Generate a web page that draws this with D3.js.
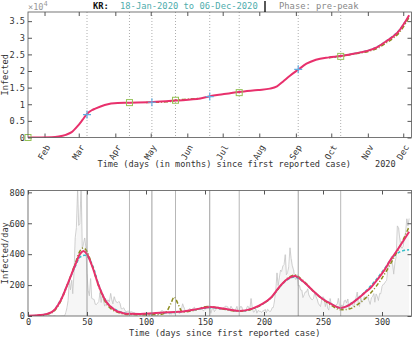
<!DOCTYPE html>
<html>
<head>
<meta charset="utf-8">
<script src="https://cdn.jsdelivr.net/npm/d3@7"></script>
<style>
body { margin: 0; background: #fff; }
text { font-family: "DejaVu Sans Mono", monospace; font-size: 8.6px; fill: #333; }
.axis path { display: none; }
.axis line { stroke: #555; }
</style>
</head>
<body>
<svg id="chart" width="415" height="339"></svg>
<script>
const COUNTRY = 'KR:';
const PERIOD = '18-Jan-2020 to 06-Dec-2020';
const PHASE = 'Phase: pre-peak';

// reported new cases per day, starting 18-Jan-2020
const jan = [0, 0, 1, 0, 0, 0, 1, 0, 1, 1, 0, 0, 2, 7];
const feb = [1, 3, 0, 1, 3, 4, 1, 0, 3, 1, 0, 0, 0, 0, 0, 1, 1, 1, 20, 53, 100, 229, 169, 231, 144, 284, 505, 571, 813];
const mar = [586, 599, 851, 435, 467, 505, 448, 272, 165, 131, 242, 114, 110, 107, 76, 74, 84, 93, 152, 87, 147, 98, 64, 76, 100, 104, 91, 146, 105, 78, 125];
const apr = [101, 89, 86, 94, 81, 47, 47, 53, 39, 27, 30, 32, 25, 27, 27, 22, 22, 18, 8, 13, 9, 11, 8, 6, 10, 10, 10, 14, 9, 4];
const may = [9, 6, 13, 8, 3, 2, 4, 12, 18, 34, 35, 27, 26, 29, 27, 19, 13, 15, 13, 32, 12, 20, 23, 25, 16, 19, 40, 79, 58, 39, 27];
const jun = [35, 38, 49, 39, 39, 51, 57, 38, 38, 50, 45, 56, 49, 37, 34, 43, 59, 49, 67, 48, 17, 46, 51, 28, 39, 51, 62, 42, 42, 43];
const jul = [51, 54, 63, 63, 61, 48, 44, 63, 50, 45, 35, 44, 62, 33, 39, 61, 60, 39, 34, 26, 45, 63, 59, 41, 113, 58, 25, 28, 48, 18, 36];
const aug = [31, 30, 23, 34, 33, 43, 20, 43, 36, 28, 34, 54, 56, 103, 166, 279, 197, 246, 297, 288, 324, 332, 397, 266, 280, 320, 441, 371, 323, 299, 248];
const sep = [235, 267, 195, 198, 168, 167, 119, 136, 156, 155, 176, 136, 121, 109, 106, 113, 153, 126, 110, 82, 70, 61, 110, 125, 114, 61, 95, 50, 38, 113];
const oct = [77, 63, 75, 64, 73, 75, 114, 69, 54, 72, 58, 98, 102, 84, 110, 47, 73, 91, 76, 58, 91, 121, 155, 77, 61, 119, 88, 103, 125, 114, 127];
const nov = [124, 97, 75, 118, 125, 145, 89, 143, 126, 100, 146, 143, 191, 205, 208, 223, 230, 313, 343, 363, 386, 330, 271, 349, 382, 583, 569, 504, 450, 438];
const dec = [451, 511, 540, 629, 583, 631];
const daily = [].concat(jan, feb, mar, apr, may, jun, jul, aug, sep, oct, nov, dec);

// fitted curves, [day, value]
const fitRed = [[0, 1], [10, 6], [15, 12], [20, 25], [23, 45], [28, 105], [34, 215], [40, 330], [44, 400], [47, 420], [50, 400], [54, 330], [60, 195], [66, 95], [74, 37], [80, 20], [85, 14], [95, 13], [106, 18], [115, 22], [128, 27], [140, 40], [155, 58], [165, 48], [179, 33], [190, 48], [199, 80], [206, 120], [213, 188], [220, 240], [226, 258], [233, 225], [241, 167], [248, 120], [256, 82], [265, 52], [270, 62], [275, 85], [280, 115], [285, 148], [291, 188], [296, 235], [302, 297], [307, 360], [313, 427], [318, 485], [323, 545]];
const fitCyan = [[0, 1], [10, 5], [20, 24], [28, 110], [34, 215], [40, 320], [44, 380], [48, 393], [52, 370], [56, 300], [60, 200], [66, 100], [74, 42], [85, 16], [100, 14], [115, 20], [130, 27], [140, 38], [155, 54], [165, 46], [179, 32], [190, 46], [199, 78], [206, 118], [213, 185], [220, 236], [226, 252], [233, 222], [241, 166], [248, 120], [256, 83], [265, 52], [275, 88], [285, 152], [295, 235], [302, 305], [307, 360], [312, 400], [317, 420], [323, 428]];
const fitOlive = [[0, 1], [10, 4], [20, 20], [28, 100], [34, 215], [40, 340], [44, 420], [47, 440], [50, 418], [54, 335], [60, 190], [66, 85], [74, 30], [85, 10], [100, 8], [112, 10], [117, 25], [121, 80], [124, 123], [127, 80], [131, 25], [140, 35], [152, 62], [165, 45], [179, 30], [190, 45], [199, 78], [206, 118], [213, 185], [220, 245], [226, 265], [233, 230], [241, 168], [248, 118], [256, 75], [265, 40], [272, 45], [280, 78], [290, 145], [300, 245], [307, 335], [313, 420], [318, 495], [323, 578]];

const cumRed = [[0, 0], [20, 100], [26, 300], [32, 800], [37, 1600], [42, 3400], [46, 5200], [50, 7100], [54, 8200], [57, 8700], [65, 9800], [76, 10400], [86, 10450], [106, 10650], [125, 11100], [146, 11700], [154, 12400], [165, 13000], [179, 13700], [195, 14300], [205, 14700], [211, 15400], [216, 16800], [222, 18600], [229, 20400], [236, 22200], [244, 23400], [255, 24100], [265, 24500], [277, 25300], [289, 26200], [296, 27200], [303, 28800], [310, 30500], [315, 32300], [320, 35000], [323, 36800]];
const cumOlive = [[255, 24000], [265, 24450], [277, 25150], [289, 25950], [296, 26800], [303, 28300], [310, 30000], [315, 31700], [320, 34300], [323, 36200]];
const cumOliveMid = [[100, 10550], [115, 10700], [121, 10850], [126, 11250], [132, 11450], [146, 11750]];
const cumCyan = [[255, 24100], [265, 24500], [277, 25300], [289, 26250], [296, 27300], [303, 28900], [310, 30700], [315, 32500], [320, 34900], [323, 36300]];

const squareDays = [0, 86, 125, 179, 265];
const squareVals = [0, 10500, 11200, 13500, 24400];
const plusDays = [50, 105, 154, 229];
const plusVals = [6900, 10600, 12300, 20500];

const topTicks = [0, 5000, 10000, 15000, 20000, 25000, 30000, 35000];
const bottomYTicks = [0, 200, 400, 600, 800];
const bottomXTicks = [0, 50, 100, 150, 200, 250, 300];

const RED = '#e8306c', CYAN = '#35bfc9', OLIVE = '#8c8c1e';
const L = 28, R = 411.5;

const svg = d3.select('#chart');
const start = d3.timeParse('%d-%b-%Y')('18-Jan-2020');
const dayDate = d => d3.timeDay.offset(start, d);

// ---------- top panel: cumulative ----------
const tTop = 12, tBot = 137.5;
const xT = d3.scaleTime().domain([start, dayDate(325)]).range([L, R]);
const xd = d => xT(dayDate(d));
const cum = d3.cumsum(daily);
const yT = d3.scaleLinear().domain([0, d3.max(cum)]).range([tBot, tTop]);

svg.append('clipPath').attr('id', 'clipTop')
    .append('rect').attr('x', L).attr('y', tTop).attr('width', R - L).attr('height', tBot - tTop);
svg.append('clipPath').attr('id', 'clipBot')
    .append('rect').attr('x', L).attr('y', 190.5).attr('width', R - L).attr('height', 316 - 190.5);

const gT = svg.append('g');
gT.selectAll('.vline').data(squareDays.concat(plusDays).filter(d => d > 0)).join('line')
    .attr('x1', d => xd(d)).attr('x2', d => xd(d))
    .attr('y1', tTop).attr('y2', tBot)
    .attr('stroke', '#999').attr('stroke-width', 0.8).attr('stroke-dasharray', '1,2');

const topMonths = d3.timeMonth.range(d3.timeMonth.ceil(start), dayDate(325));
gT.append('g').attr('class', 'axis').attr('transform', `translate(0,${tBot})`)
    .call(d3.axisBottom(xT).tickValues(topMonths).tickSize(-4).tickFormat(d3.timeFormat('%b')))
    .selectAll('text')
    .attr('x', 0).attr('y', 0).attr('dy', '0.35em')
    .attr('text-anchor', 'end')
    .attr('transform', 'translate(3,8) rotate(-60)');
gT.append('g').attr('class', 'axis').attr('transform', `translate(0,${tTop})`)
    .call(d3.axisTop(xT).tickValues(topMonths).tickSize(-4).tickFormat(''));
gT.append('g').attr('class', 'axis').attr('transform', `translate(${L},0)`)
    .call(d3.axisLeft(yT).tickValues(topTicks).tickSize(-4).tickPadding(3).tickFormat(d => d / 1e4));
gT.append('g').attr('class', 'axis').attr('transform', `translate(${R},0)`)
    .call(d3.axisRight(yT).tickValues(topTicks).tickSize(-4).tickFormat(''));

const plotT = gT.append('g').attr('clip-path', 'url(#clipTop)');
const lineT = d3.line().x(d => xd(d[0])).y(d => yT(d[1])).curve(d3.curveMonotoneX);
plotT.append('path').datum(cum.map((v, i) => [i, v]))
    .attr('d', lineT).attr('fill', 'none').attr('stroke', '#cdcdcd').attr('stroke-width', 5);
plotT.append('path').datum(cumOliveMid).attr('d', lineT).attr('fill', 'none')
    .attr('stroke', OLIVE).attr('stroke-width', 1.5).attr('stroke-dasharray', '4,2,1,2');
plotT.append('path').datum(cumCyan).attr('d', lineT).attr('fill', 'none')
    .attr('stroke', CYAN).attr('stroke-width', 1.5).attr('stroke-dasharray', '3,2');
plotT.append('path').datum(cumOlive).attr('d', lineT).attr('fill', 'none')
    .attr('stroke', OLIVE).attr('stroke-width', 1.5).attr('stroke-dasharray', '4,2,1,2');
plotT.append('path').datum(cumRed).attr('d', lineT).attr('fill', 'none')
    .attr('stroke', RED).attr('stroke-width', 2);

gT.selectAll('.sq').data(squareDays).join('rect')
    .attr('x', d => xd(d) - 3).attr('y', (d, i) => yT(squareVals[i]) - 3)
    .attr('width', 6).attr('height', 6)
    .attr('fill', 'none').attr('stroke', '#95c256').attr('stroke-width', 1);
gT.selectAll('.plus').data(plusDays).join('path')
    .attr('d', (d, i) => `M${xd(d) - 4},${yT(plusVals[i])}h8M${xd(d)},${yT(plusVals[i]) - 4}v8`)
    .attr('stroke', '#62ade0').attr('stroke-width', 1.2);

gT.append('rect').attr('x', L).attr('y', tTop).attr('width', R - L).attr('height', tBot - tTop)
    .attr('fill', 'none').attr('stroke', '#555').attr('stroke-width', 0.8);

const mult = gT.append('text').attr('x', L).attr('y', 10).style('fill', '#999');
mult.append('tspan').text('×10');
mult.append('tspan').attr('dy', -4).style('font-size', '7px').text('4');

gT.append('text').attr('transform', `translate(8,${(tTop + tBot) / 2}) rotate(-90)`)
    .attr('text-anchor', 'middle').text('Infected');
gT.append('text').attr('x', 97.5).attr('y', 167).text('Time (days (in months) since first reported case)');
gT.append('text').attr('x', 375).attr('y', 167).text('2020');

// title
svg.append('text').attr('x', 93).attr('y', 9).style('font-weight', 'bold').style('fill', '#111')
    .style('font-size', '8.8px').text(COUNTRY);
svg.append('text').attr('x', 120).attr('y', 9).style('fill', '#4fadad')
    .style('font-size', '8.8px').text(PERIOD);
svg.append('line').attr('x1', 265).attr('x2', 265).attr('y1', 1).attr('y2', 12)
    .attr('stroke', '#111').attr('stroke-width', 1.4);
svg.append('text').attr('x', 279).attr('y', 9).style('fill', '#888')
    .style('font-size', '8.8px').text(PHASE);

// ---------- bottom panel: daily ----------
const bTop = 190.5, bBot = 316;
const xB = d3.scaleLinear().domain([0, 325]).range([L, R]);
const yB = d3.scaleLinear().domain([0, 812]).range([bBot, bTop]);
const gB = svg.append('g');

const plotB = gB.append('g').attr('clip-path', 'url(#clipBot)');
plotB.append('path').datum(daily)
    .attr('d', d3.area().x((d, i) => xB(i)).y0(bBot).y1(d => yB(d)).curve(d3.curveStepAfter))
    .attr('fill', '#f6f6f6');

gB.selectAll('.vline').data(squareDays.concat(plusDays).filter(d => d > 0)).join('line')
    .attr('x1', d => xB(d)).attr('x2', d => xB(d))
    .attr('y1', bTop).attr('y2', bBot)
    .attr('stroke', d => plusDays.includes(d) ? '#888' : '#a5a5a5').attr('stroke-width', 0.8);

plotB.append('path').datum(daily)
    .attr('d', d3.line().x((d, i) => xB(i)).y(d => yB(d)))
    .attr('fill', 'none').attr('stroke', '#c4c4c4').attr('stroke-width', 0.8);

const lineB = d3.line().x(d => xB(d[0])).y(d => yB(d[1])).curve(d3.curveMonotoneX);
plotB.append('path').datum(fitCyan).attr('d', lineB).attr('fill', 'none')
    .attr('stroke', CYAN).attr('stroke-width', 1.5).attr('stroke-dasharray', '3,2');
plotB.append('path').datum(fitOlive).attr('d', lineB).attr('fill', 'none')
    .attr('stroke', OLIVE).attr('stroke-width', 1.5).attr('stroke-dasharray', '4,2,1,2');
plotB.append('path').datum(fitRed).attr('d', lineB).attr('fill', 'none')
    .attr('stroke', RED).attr('stroke-width', 2);

gB.append('g').attr('class', 'axis').attr('transform', `translate(0,${bBot})`)
    .call(d3.axisBottom(xB).tickValues(bottomXTicks).tickSize(-4).tickPadding(3));
gB.append('g').attr('class', 'axis').attr('transform', `translate(0,${bTop})`)
    .call(d3.axisTop(xB).tickValues(bottomXTicks).tickSize(-4).tickFormat(''));
gB.append('g').attr('class', 'axis').attr('transform', `translate(${L},0)`)
    .call(d3.axisLeft(yB).tickValues(bottomYTicks).tickSize(-4).tickPadding(3));
gB.append('g').attr('class', 'axis').attr('transform', `translate(${R},0)`)
    .call(d3.axisRight(yB).tickValues(bottomYTicks).tickSize(-4).tickFormat(''));

gB.append('rect').attr('x', L).attr('y', bTop).attr('width', R - L).attr('height', bBot - bTop)
    .attr('fill', 'none').attr('stroke', '#555').attr('stroke-width', 0.8);

gB.append('text').attr('transform', `translate(8,${(bTop + bBot) / 2}) rotate(-90)`)
    .attr('text-anchor', 'middle').text('Infected/day');
gB.append('text').attr('x', 129).attr('y', 336).text('Time (days since first reported case)');
</script>
</body>
</html>
